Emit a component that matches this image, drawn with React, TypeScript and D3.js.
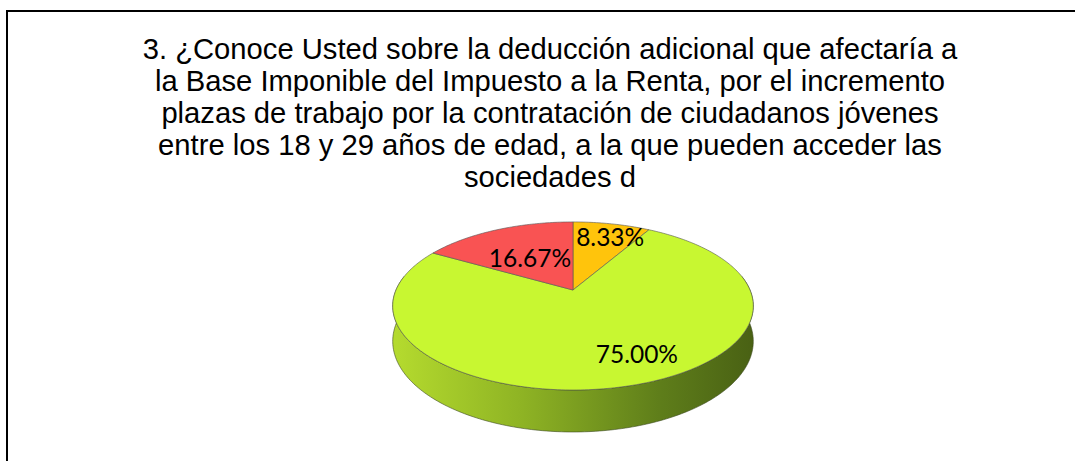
import React from "react";
import * as d3 from "d3";

// survey answers (share of respondents, %)
const categories = ["Sí", "No", "Parcialmente"];
const values = [8.33, 75.0, 16.67];
const valueLabels = ["8.33%", "75.00%", "16.67%"];
const sliceColors = ["#FFC40C", "#C8F731", "#F95353"];

const titleLines = [
  "3. ¿Conoce Usted sobre la deducción adicional que afectaría a",
  "la Base Imponible del Impuesto a la Renta, por el incremento",
  "plazas de trabajo por la contratación de ciudadanos jóvenes",
  "entre los 18 y 29 años de edad, a la que pueden acceder las",
  "sociedades d",
];

const W = 1075;
const H = 461;

// 3d pie geometry
const cx = 573;
const cy = 290;
const rx = 177;
const ry = 81;
const depth = 34;
const persp = 0.19;

// label placement: radius fraction on the top face + small manual moves (like excel "best fit")
const labelRadius = 0.75;
const labelMoves: [number, number][] = [
  [7, -2],
  [24, -5],
  [16, 14],
];

const project = (a: number, k: number, z: number): [number, number] => {
  const u = Math.sin(a) * k;
  const v = -Math.cos(a) * k;
  const s = 1 / (1 - persp * v);
  return [cx + rx * u * s, cy + (ry * v + z) * s];
};

const sample = (a0: number, a1: number, k: number, z: number) => {
  const step = Math.PI / 180;
  const pts = d3.range(a0, a1, step).map((a) => project(a, k, z));
  pts.push(project(a1, k, z));
  return pts;
};

const line = d3.line();

export default function App() {
  const pie = d3
    .pie<number>()
    .sort(null)
    .value((d) => d)
    .startAngle(0)
    .endAngle(2 * Math.PI);
  const arcs = pie(values);

  // front wall (only the front half shows, top face covers the rest)
  const sideA0 = (80 * Math.PI) / 180;
  const sideA1 = (280 * Math.PI) / 180;
  const sidePts = sample(sideA0, sideA1, 1, 0).concat(
    sample(sideA0, sideA1, 1, depth).reverse()
  );

  return (
    <svg
      width={W}
      height={H}
      style={{ position: "absolute", left: 0, top: 0, background: "#fff" }}
    >
      <defs>
        <linearGradient
          id="side"
          gradientUnits="userSpaceOnUse"
          x1={cx - rx}
          x2={cx + rx}
          y1={0}
          y2={0}
        >
          <stop offset="0%" stopColor="#B4DA2E" />
          <stop offset="35%" stopColor="#8FB424" />
          <stop offset="75%" stopColor="#5E7D1A" />
          <stop offset="100%" stopColor="#4A6214" />
        </linearGradient>
      </defs>

      <rect
        x={7}
        y={11}
        width={W + 20}
        height={H + 20}
        fill="none"
        stroke="#000"
        strokeWidth={2}
      />

      <text
        x={550}
        fontFamily="'Liberation Sans', Arial, sans-serif"
        fontSize={29.2}
        textAnchor="middle"
        fill="#000"
      >
        {titleLines.map((t, i) => (
          <tspan key={i} x={550} y={59 + i * 32}>
            {t}
          </tspan>
        ))}
      </text>

      <path
        d={line(sidePts) + "Z"}
        fill="url(#side)"
        stroke="#3d4a20"
        strokeWidth={0.6}
      />

      {arcs.map((d, i) => (
        <path
          key={categories[i]}
          d={
            line([[cx, cy] as [number, number]].concat(
              sample(d.startAngle, d.endAngle, 1, 0)
            )) + "Z"
          }
          fill={sliceColors[i]}
          stroke="#555"
          strokeWidth={0.6}
          strokeLinejoin="round"
        />
      ))}

      {arcs.map((d, i) => {
        const [x, y] = project(
          (d.startAngle + d.endAngle) / 2,
          labelRadius,
          0
        );
        return (
          <text
            key={"l" + i}
            x={x + labelMoves[i][0]}
            y={y + labelMoves[i][1]}
            textAnchor="middle"
            dominantBaseline="central"
            fontFamily="Lato, 'Open Sans', sans-serif"
            fontSize={24.5}
            fill="#000"
          >
            {valueLabels[i]}
          </text>
        );
      })}
    </svg>
  );
}
